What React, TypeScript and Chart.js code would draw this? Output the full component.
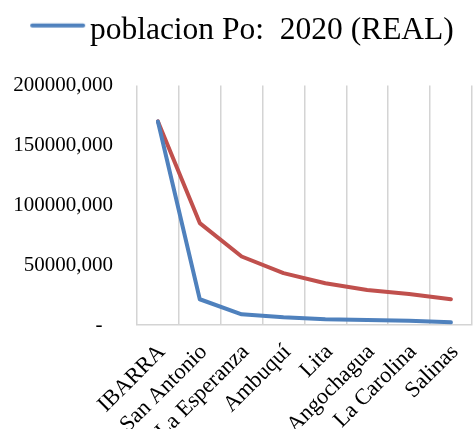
import React, { useEffect, useRef } from 'react';
import { Chart, registerables } from 'chart.js';
Chart.register(...registerables);

const categories = ['IBARRA', 'San Antonio', 'La Esperanza', 'Ambuquí', 'Lita', 'Angochagua', 'La Carolina', 'Salinas'];
const real2020 = [170000, 21500, 8900, 6400, 4800, 4200, 3600, 2200];
const proyectada = [170000, 85100, 57200, 43300, 34900, 29300, 25900, 21500];
const realLabel = 'poblacion Po:  2020 (REAL)';
const proyLabel = 'poblacion proyectada';
const yTicks = [0, 50000, 100000, 150000, 200000];

const FONT = "'Liberation Serif', 'Times New Roman', serif";
const BLUE = '#4F81BD';
const RED = '#C0504D';
const CW = 484;
const CH = 429;

function makeLegendLine(color: string) {
  const c = document.createElement('canvas');
  c.width = 70;
  c.height = 40;
  const g = c.getContext('2d')!;
  g.strokeStyle = color;
  g.lineWidth = 4;
  g.lineCap = 'round';
  g.beginPath();
  g.moveTo(15, 14.8);
  g.lineTo(66, 14.8);
  g.stroke();
  return c;
}

export default function App() {
  const ref = useRef<HTMLCanvasElement>(null);
  useEffect(() => {
    if (!ref.current) return;
    const legendImg = makeLegendLine(BLUE);
    const gapPlugin = {
      id: 'legendGap',
      beforeUpdate(chart: any) {
        const lg = chart.legend;
        if (lg && !lg._patched) {
          const orig = lg.fit;
          lg.fit = function () {
            orig.call(this);
            this.height += 29;
          };
          lg._patched = true;
        }
      },
    };
    const chart = new Chart(ref.current, {
      type: 'line',
      data: {
        labels: categories,
        datasets: [
          {
            label: realLabel,
            data: real2020,
            borderColor: BLUE,
            backgroundColor: BLUE,
            borderWidth: 4,
            pointRadius: 0,
            tension: 0,
            borderCapStyle: 'round',
            borderJoinStyle: 'round',
          },
          {
            label: proyLabel,
            data: proyectada,
            borderColor: RED,
            backgroundColor: RED,
            borderWidth: 4,
            pointRadius: 0,
            tension: 0,
            borderCapStyle: 'round',
            borderJoinStyle: 'round',
          },
        ],
      },
      options: {
        responsive: false,
        animation: false,
        layout: { padding: { top: 5, left: 0, right: 0, bottom: 0 } },
        plugins: {
          tooltip: { enabled: false },
          legend: {
            position: 'top',
            labels: {
              color: '#000',
              font: { family: FONT, size: 31.5 },
              usePointStyle: true,
              pointStyleWidth: 44,
              padding: 10,
              filter: (item: any) => item.datasetIndex === 0,
              generateLabels: (ch: any) => {
                const items = Chart.defaults.plugins.legend.labels.generateLabels(ch);
                return items.map((it: any) => ({ ...it, pointStyle: legendImg }));
              },
            },
          },
        },
        scales: {
          x: {
            type: 'category',
            offset: true,
            grid: { display: true, offset: true, color: '#d4d4d4', lineWidth: 1.5, drawTicks: false },
            border: { display: true, color: '#d4d4d4', width: 1.5 },
            ticks: {
              color: '#000',
              font: { family: FONT, size: 22.5 },
              minRotation: 45,
              maxRotation: 45,
              autoSkip: false,
              padding: 14,
              labelOffset: 4,
            },
            afterFit: (s: any) => {
              s.height = 104;
            },
          },
          y: {
            min: 0,
            max: 200000,
            afterBuildTicks: (s: any) => {
              s.ticks = yTicks.map((v) => ({ value: v }));
            },
            grid: { display: false, drawTicks: false },
            border: { display: false },
            ticks: {
              color: '#000',
              font: { family: FONT, size: 21 },
              padding: 24,
              callback: (v: any) => (Number(v) === 0 ? '-  ' : String(v) + ',000'),
            },
            afterFit: (s: any) => {
              s.width = 137;
            },
          },
        },
      },
      plugins: [gapPlugin],
    } as any);
    return () => chart.destroy();
  }, []);
  return (
    <div style={{ position: 'fixed', left: 0, top: 0, width: 475, height: CH, overflow: 'hidden', background: '#fff' }}>
      <canvas ref={ref} width={CW} height={CH} style={{ display: 'block', width: CW, height: CH }} />
    </div>
  );
}
